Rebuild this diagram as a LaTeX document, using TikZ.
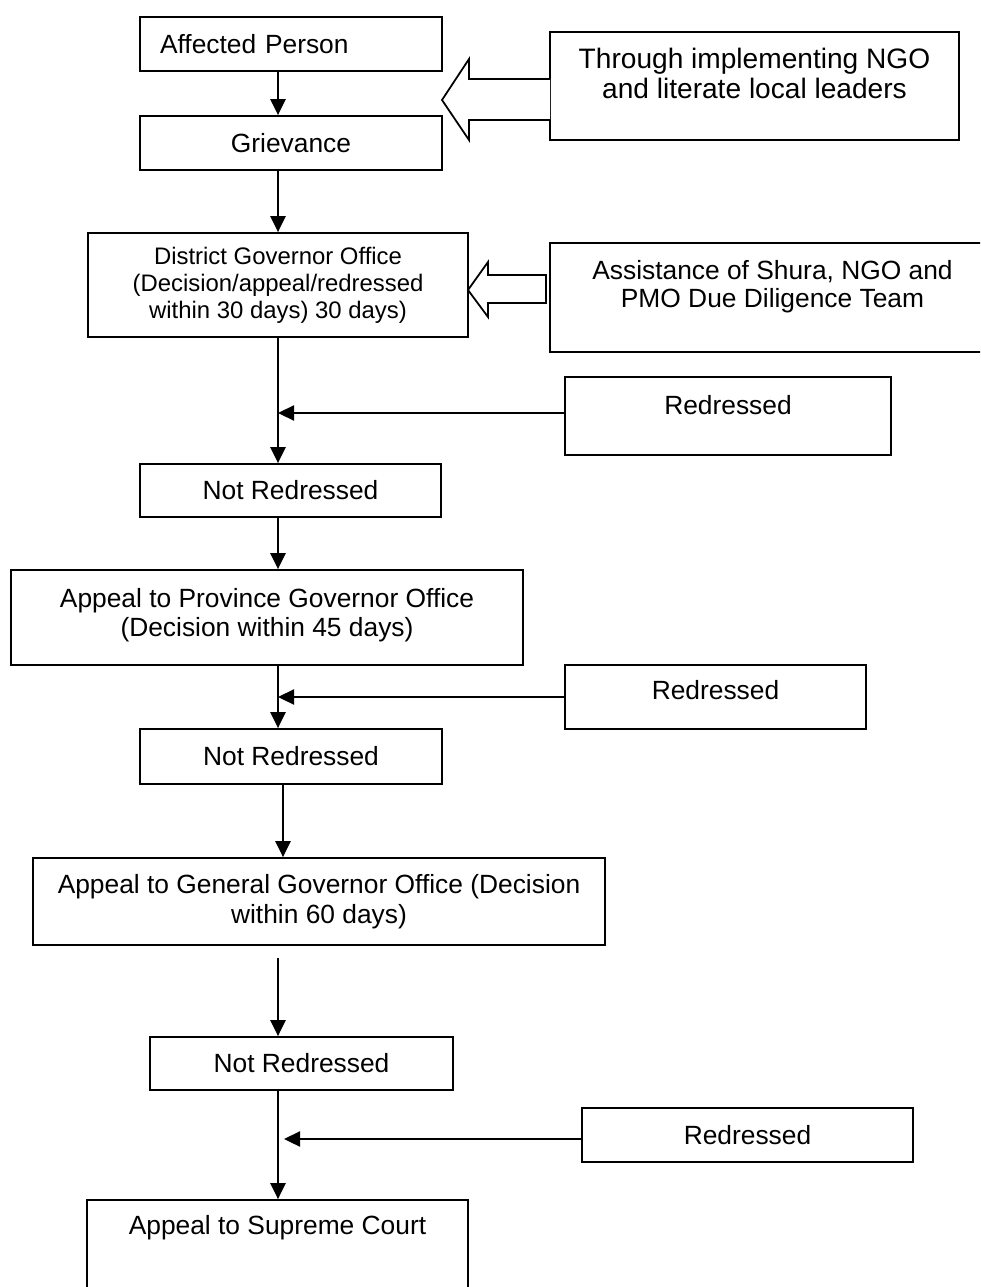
\documentclass[tikz,border=0pt]{standalone}
\usepackage{fontspec}
\setmainfont{Liberation Sans}
\usetikzlibrary{arrows.meta}

\begin{document}
\begin{tikzpicture}[x=0.02cm,y=-0.02cm]
        \useasboundingbox (0,0) rectangle (980,1287);
        \clip (0,0) rectangle (980,1287);
        \begin{scope}[every node/.style={rectangle,draw=black,line width=1pt,inner sep=0pt,align=center,font=\fontsize{15}{17}\selectfont}]
          \node[minimum width=6.04cm,minimum height=1.08cm,text width=5.24cm,align=left] (AP) at (291,44) {Affected Person};
          \node[minimum width=6.04cm,minimum height=1.08cm] (G)  at (291,143) {Grievance};
          \node[minimum width=8.18cm,minimum height=2.16cm,text depth=0.5cm,font=\fontsize{16}{17}\selectfont] (N) at (754.5,86) {Through implementing NGO\\and literate local leaders};
          \node[minimum width=7.6cm,minimum height=2.08cm,font=\fontsize{13.6}{15.3}\selectfont] (D) at (278,285) {District Governor Office\\(Decision/appeal/redressed\\within 30 days) 30 days)};
          \node[minimum width=8.9cm,minimum height=2.18cm,text depth=0.55cm,font=\fontsize{15}{16}\selectfont] (S) at (772.5,297.5) {Assistance of Shura, NGO and\\PMO Due Diligence Team};
          \node[minimum width=6.52cm,minimum height=1.56cm,text depth=0.44cm] (R1) at (728,416) {Redressed};
          \node[minimum width=6.02cm,minimum height=1.06cm] (NR1) at (290.5,490.5) {Not Redressed};
          \node[minimum width=10.24cm,minimum height=1.9cm,text depth=0.2cm] (P) at (267,617.5) {Appeal to Province Governor Office\\(Decision within 45 days)};
          \node[minimum width=6.02cm,minimum height=1.28cm,text depth=0.28cm] (R2) at (715.5,697) {Redressed};
          \node[minimum width=6.04cm,minimum height=1.1cm] (NR2) at (291,756.5) {Not Redressed};
          \node[minimum width=11.44cm,minimum height=1.74cm] (GG) at (319,901.5) {Appeal to General Governor Office (Decision\\within 60 days)};
          \node[minimum width=6.06cm,minimum height=1.06cm] (NR3) at (301.5,1063.5) {Not Redressed};
          \node[minimum width=6.62cm,minimum height=1.08cm] (R3) at (747.5,1135) {Redressed};
          \node[minimum width=7.62cm,minimum height=2cm,text depth=1cm] (SC) at (277.5,1250) {Appeal to Supreme Court};
        \end{scope}
        % hollow arrows into the boxes
        \draw[line width=1pt,fill=white] (550,79) -- (469,79) -- (469,59) -- (442,100) -- (469,140) -- (469,120) -- (550,120);
        \draw[line width=1pt,fill=white] (546,275) -- (488,275) -- (488,262) -- (468,290) -- (488,317) -- (488,303) -- (546,303) -- cycle;
        \begin{scope}[every edge/.style={draw=black,line width=1.3pt,-{Triangle[length=0.32cm,width=0.3cm]}}]
          \path (AP.south -| D.south) edge (G.north -| D.south);
          \path (G.south -| D.south) edge (D.north);
          \path (D.south) edge (NR1.north -| D.south);
          \path ([yshift=0.06cm]R1.west) edge ([yshift=0.06cm]R1.west -| D.south);
          \path (NR1.south -| D.south) edge (P.north -| D.south);
          \path (P.south -| D.south) edge (NR2.north -| D.south);
          \path (R2.west) edge (R2.west -| D.south);
          \path ([xshift=0.1cm]NR2.south -| D.south) edge ([xshift=0.1cm]GG.north -| D.south);
          \path (GG.south -| D.south) edge[shorten <=0.24cm] (NR3.north -| D.south);
          \path (NR3.south -| D.south) edge (SC.north -| D.south);
          \path ([yshift=-0.08cm]R3.west) edge[shorten >=0.12cm] ([yshift=-0.08cm]R3.west -| D.south);
        \end{scope}
      \end{tikzpicture}
\end{document}
